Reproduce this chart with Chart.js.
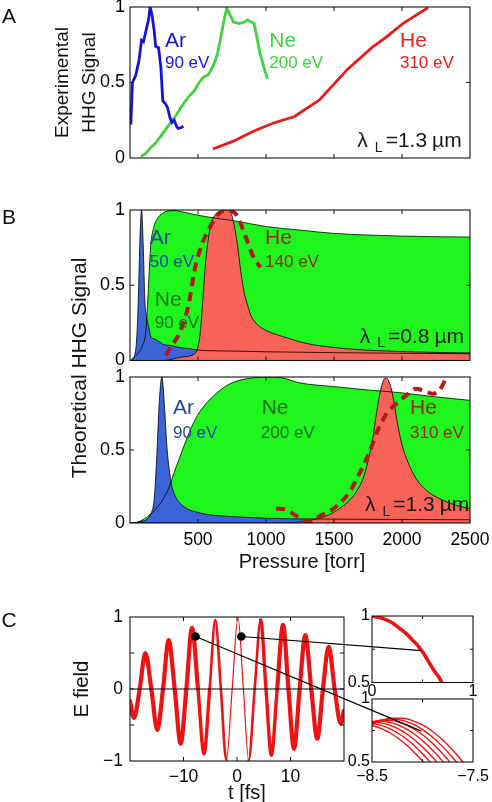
<!DOCTYPE html>
<html><head><meta charset="utf-8">
<script src="https://cdn.jsdelivr.net/npm/chart.js@4.4.1/dist/chart.umd.min.js"></script>
<style>html,body{margin:0;padding:0;background:#fff;}#wrap{position:relative;width:492px;height:802px;overflow:hidden;background:#fff;}canvas{position:absolute;left:0;top:0;}</style>
</head><body><div id="wrap"></div>
<script>
// ================= DATA =================
// Panel A: experimental HHG signal vs pressure (torr)
const aArP = [6,18,43,67,85,99,109,136,148,163,178,188,210,227,241,259,276,293,308,325,342,354,374,393];
const aArV = [0.22,0.50,0.55,0.65,0.78,0.77,0.81,0.915,1.0,0.94,0.84,0.74,0.73,0.60,0.38,0.36,0.335,0.27,0.235,0.25,0.21,0.196,0.20,0.21];
const aNeP = [80,116,153,190,227,263,300,337,374,410,435,472,509,540,570,594,624,643,668,692,712,729,761,803,839,864,893,913,937,957,974,991,1011];
const aNeV = [0.01,0.03,0.07,0.10,0.145,0.19,0.235,0.28,0.335,0.38,0.41,0.445,0.50,0.535,0.547,0.58,0.636,0.69,0.80,0.915,0.993,0.96,0.90,0.89,0.90,0.915,0.90,0.89,0.78,0.69,0.636,0.58,0.525];
const aHeP = [609,756,903,1050,1210,1393,1602,1785,1884,2006,2190];
const aHeV = [0.06,0.11,0.176,0.23,0.275,0.385,0.59,0.736,0.80,0.89,0.995];

// Panel B top (0.8 um)
const b1ArP = [0,6,43,60,72,85,97,109,124,141,153,178,202,227,251,300,349,398,447,484,600,800,1000,1500,2000,2500];
const b1ArV = [0,0,0.08,0.37,0.77,1.0,0.77,0.41,0.28,0.21,0.155,0.144,0.133,0.118,0.104,0.10,0.089,0.082,0.078,0.071,0.065,0.062,0.058,0.052,0.048,0.045];
const b1NeP = [0,55,92,116,129,141,153,173,202,239,276,325,374,472,634,756,1001,1246,1491,1737,1982,2227,2500];
const b1NeV = [0,0.044,0.10,0.19,0.37,0.59,0.77,0.88,0.944,0.978,0.993,0.996,0.99,0.97,0.945,0.93,0.89,0.867,0.845,0.834,0.827,0.823,0.82];
const b1HeP = [0,251,374,472,496,516,533,550,570,594,624,668,712,741,766,790,815,839,864,888,925,962,1011,1085,1173,1246,1344,1467,1590,1835,2080,2500];
const b1HeV = [0,0,0.022,0.042,0.078,0.18,0.37,0.59,0.77,0.90,0.967,0.993,1.0,0.984,0.90,0.77,0.59,0.455,0.37,0.30,0.25,0.22,0.195,0.17,0.145,0.125,0.105,0.09,0.078,0.065,0.057,0.05];
const b1ExP = [263,300,349,386,411,435,452,472,496,526,558,589,619,656,692,729,766,803,827,864,901,938,962];
const b1ExV = [0.033,0.089,0.156,0.233,0.30,0.39,0.478,0.589,0.678,0.767,0.833,0.889,0.933,0.978,0.993,0.993,0.984,0.933,0.878,0.789,0.70,0.644,0.62];

// Panel B bottom (1.3 um)
const b2ArP = [0,30,80,129,158,178,197,214,227,234,241,256,271,288,307,337,374,423,496,594,717,839,1011,1300,1600,2000,2500];
const b2ArV = [0,0,0.01,0.027,0.073,0.165,0.46,0.805,0.966,1.0,0.966,0.76,0.53,0.37,0.256,0.176,0.13,0.096,0.073,0.055,0.046,0.039,0.032,0.028,0.026,0.024,0.022];
const b2NeP = [0,50,104,153,202,251,288,325,362,398,447,496,558,619,692,766,864,962,1050,1124,1246,1491,1737,1982,2227,2500];
const b2NeV = [0,0.005,0.027,0.062,0.108,0.176,0.245,0.348,0.44,0.53,0.645,0.737,0.817,0.874,0.93,0.966,0.989,0.998,1.0,0.993,0.96,0.935,0.912,0.893,0.866,0.84];
const b2HeP = [0,1100,1197,1320,1443,1540,1614,1663,1712,1749,1785,1810,1835,1859,1879,1896,1921,1945,1969,2001,2043,2104,2178,2276,2398,2500];
const b2HeV = [0,0,0.002,0.018,0.048,0.098,0.155,0.212,0.30,0.418,0.578,0.737,0.874,0.966,0.993,0.984,0.92,0.806,0.669,0.532,0.418,0.304,0.224,0.167,0.121,0.098];
const b2ExP = [1075,1136,1222,1283,1320,1406,1467,1540,1614,1687,1761,1822,1884,1957,2031,2104,2153,2227,2276,2325,2345];
const b2ExV = [0.098,0.094,0.05,0.018,0.01,0.053,0.08,0.132,0.212,0.338,0.486,0.635,0.745,0.817,0.874,0.92,0.909,0.886,0.909,1.0,1.06];

// Panel C: E field vs t (fs)
const cT = [-20,-19.25,-18.19,-17.13,-16.01,-14.89,-13.83,-12.77,-11.65,-10.53,-9.47,-8.41,-7.29,-6.17,-5.11,-4.05,-3.02,-1.99,-0.9,0.19,1.19,2.18,3.3,4.42,5.42,6.42,7.51,8.6,9.62,10.65,11.71,12.77,13.88,15.0,16.06,17.13,18.25,19.38,20];
const cE = [-0.17,-0.40,0,0.50,0,-0.57,0,0.68,0,-0.76,0,0.85,0,-0.90,0,0.96,0,-0.99,0,1.0,0,-0.99,0,0.96,0,-0.92,0,0.89,0,-0.83,0,0.75,0,-0.69,0,0.59,0,-0.48,-0.30];
const zeroT = [-20,20];
const zeroE = [0,0];
const dotT = [-7.75,0.8];
const dotE = [0.73,0.73];
const linkX = [-8.01,0.49];
const linkY = [0.745,0.74];
const linkTo = ['inB','inT'];
// inset top (t in 0..1)
const itX = [0,0.066,0.13,0.2,0.26,0.33,0.4,0.46,0.51,0.56,0.61,0.66,0.69,0.72];
const itY = [1.0,0.99,0.975,0.95,0.915,0.873,0.82,0.772,0.72,0.657,0.594,0.543,0.5,0.45];
// inset bottom (t in -8.5..-7.5), several curves
const ibX = [-8.5,-8.4,-8.3,-8.2,-8.1,-8.0,-7.9,-7.8,-7.7,-7.6,-7.5];
const ib1 = [0.790,0.763,0.720,0.663,0.592,0.508,0.413];
const ib2 = [0.806,0.789,0.755,0.706,0.643,0.566,0.477];
const ib3 = [0.816,0.809,0.785,0.745,0.689,0.619,0.537,0.443];
const ib4 = [0.821,0.824,0.810,0.779,0.732,0.669,0.593,0.505,0.406];
const ib5 = [0.819,0.832,0.828,0.807,0.769,0.716,0.647,0.565,0.471];
const ib6 = [0.810,0.834,0.841,0.830,0.802,0.757,0.697,0.622,0.534,0.434];
const ib7 = [0.797,0.831,0.848,0.847,0.829,0.794,0.742,0.674,0.593,0.50,0.395];

// tick labels
const pTicks = [0,500,1000,1500,2000,2500];
const pLabels = ['','500','1000','1500','2000','2500'];
const sTicks = [0,0.5,1];
const sLabels = ['0','0.5','1'];
const tTicks = [-20,-10,0,10,20];
const tLabels = ['','\u221210','0','10',''];
const eTicks = [-1,-0.5,0,0.5,1];
const eLabels = ['\u22121','','0','','1'];
const iyTicks = [0.5,0.75,1];
const iyLabels = ['0.5','','1'];
const itTicks = [0,0.5,1];
const itLabels = ['0','','1'];
const ibTicks = [-8.5,-8,-7.5];
const ibLabels = ['\u22128.5','','\u22127.5'];

// ================= LAYOUT / STYLE =================
const FONT = "'Liberation Sans', Arial, Helvetica, sans-serif";
const W = 492, H = 802, YW = 40, XH = 30;
Chart.defaults.font.family = FONT;
Chart.defaults.color = '#000';
const charts = {};
const ANNOT = {};

function pts(xs, ys){ return ys.map((y,i)=>({x:xs[i], y})); }

function drawLambda(ctx, xr, ym, val, size, color){
  const big = size+'px '+FONT, small = Math.round(size*0.68)+'px '+FONT;
  const parts = [['\u03bb',big,0,7],['L',small,size*0.32,3],['='+val,big,0,5],['\u00b5m',big,0,0]];
  let total = 0;
  parts.forEach(p=>{ctx.font=p[1]; p.w=ctx.measureText(p[0]).width; total+=p.w+p[3];});
  let x = xr-total;
  ctx.fillStyle=color; ctx.textAlign='left'; ctx.textBaseline='middle';
  parts.forEach(p=>{ctx.font=p[1]; ctx.fillText(p[0],x,ym+p[2]); x+=p.w+p[3];});
}

const boxPlugin = {
  id:'boxTicks',
  afterDatasetsDraw(chart){
    const {ctx, chartArea:a, scales:{x,y}} = chart;
    const an = ANNOT[chart.canvas.id] || {};
    const L = an.tickLen || 4;
    ctx.save();
    ctx.strokeStyle='#111'; ctx.lineWidth=1;
    ctx.beginPath();
    x.ticks.forEach(t=>{const px=x.getPixelForValue(t.value); if(px<a.left+1||px>a.right-1) return;
      ctx.moveTo(px,a.bottom); ctx.lineTo(px,a.bottom-L); ctx.moveTo(px,a.top); ctx.lineTo(px,a.top+L);});
    y.ticks.forEach(t=>{const py=y.getPixelForValue(t.value); if(py<a.top+1||py>a.bottom-1) return;
      ctx.moveTo(a.left,py); ctx.lineTo(a.left+L,py); ctx.moveTo(a.right,py); ctx.lineTo(a.right-L,py);});
    ctx.stroke();
    ctx.lineWidth=1.1;
    ctx.strokeRect(a.left,a.top,a.right-a.left,a.bottom-a.top);
    ctx.restore();
  }
};
const textPlugin = {
  id:'texts',
  afterDraw(chart){
    const {ctx, chartArea:a, scales:{x,y}} = chart;
    const an = ANNOT[chart.canvas.id]; if(!an) return;
    ctx.save();
    (an.items||[]).forEach(it=>{
      const px=x.getPixelForValue(it.x), py=y.getPixelForValue(it.y);
      if(it.lambda){ drawLambda(ctx,px,py,it.lambda,it.size,it.color); return; }
      ctx.font=it.size+'px '+FONT; ctx.fillStyle=it.color; ctx.textAlign='left'; ctx.textBaseline='middle';
      ctx.fillText(it.text,px,py);
    });
    (an.titles||[]).forEach(t=>{
      const bx = t.h==='left'?a.left:(t.h==='center'?(a.left+a.right)/2:a.right);
      const by = t.v==='top'?a.top:(t.v==='mid'?(a.top+a.bottom)/2:a.bottom);
      ctx.save(); ctx.translate(bx+t.dx, by+t.dy); if(t.rot) ctx.rotate(-Math.PI/2);
      ctx.font=t.size+'px '+FONT; ctx.fillStyle='#111'; ctx.textAlign='center'; ctx.textBaseline='middle';
      ctx.fillText(t.text,0,0); ctx.restore();
    });
    ctx.restore();
  }
};
Chart.register(boxPlugin, textPlugin);

function sx(min,max,vals,labels,pad,size){
  return {type:'linear',min,max,grid:{display:false,drawTicks:false},border:{display:false},
    ticks:{display:!!labels,padding:pad,autoSkip:false,maxRotation:0,minRotation:0,color:'#000',font:{size:size||17.5},
      callback:(v,i)=>labels?labels[i]:''},
    afterBuildTicks:s=>{s.ticks=vals.map(v=>({value:v}));},
    afterFit:s=>{s.height=XH; s.paddingLeft=0; s.paddingRight=0; s.paddingTop=0; s.paddingBottom=0;}};
}
function sy(min,max,vals,labels,pad,size){
  return {type:'linear',min,max,grid:{display:false,drawTicks:false},border:{display:false},
    ticks:{display:!!labels,padding:pad,autoSkip:false,color:'#000',font:{size:size||17.5},
      callback:(v,i)=>labels?labels[i]:''},
    afterBuildTicks:s=>{s.ticks=vals.map(v=>({value:v}));},
    afterFit:s=>{s.width=YW; s.paddingLeft=0; s.paddingRight=0; s.paddingTop=0; s.paddingBottom=0;}};
}
function mk(key, area, datasets, scales, extraPlugins){
  const c=document.createElement('canvas'); c.id=key; c.width=W; c.height=H;
  c.style.width=W+'px'; c.style.height=H+'px';
  document.getElementById('wrap').appendChild(c);
  charts[key]=new Chart(c.getContext('2d'),{type:'line',data:{datasets},
    options:{responsive:false,animation:false,devicePixelRatio:1,events:[],
      layout:{padding:{left:area.l-YW,top:area.t,right:W-area.r,bottom:H-area.b-XH}},
      scales,
      elements:{point:{radius:0},line:{tension:0}},
      plugins:{legend:{display:false},tooltip:{enabled:false},filler:{drawTime:'beforeDatasetsDraw',propagate:false}}},
    plugins:extraPlugins||[]});
}

const BLUE_A='#1414dc', GREEN_A='#3fd23f', RED_A='#e61c1c';
const BLUE_F='#3d63d8', GREEN_F='#1df51d', RED_F='#fa6458', DASH='#b01a1a';
const TXT_AR='#1f47a0', TXT_NE='#1b741b', TXT_HE='#8c2e14', TXT_L='#1a1a1a';

// ----- Panel A -----
ANNOT.A = {items:[
  {x:257,y:0.775,text:'Ar',size:21,color:BLUE_A},{x:257,y:0.629,text:'90 eV',size:17,color:BLUE_A},
  {x:1024,y:0.775,text:'Ne',size:21,color:GREEN_A},{x:1024,y:0.629,text:'200 eV',size:17,color:GREEN_A},
  {x:1985,y:0.775,text:'He',size:21,color:RED_A},{x:1985,y:0.629,text:'310 eV',size:17,color:RED_A},
  {x:2439,y:0.108,lambda:'1.3',size:21,color:TXT_L}],
  titles:[{text:'Experimental',h:'left',dx:-67,v:'mid',dy:0,rot:true,size:19},
          {text:'HHG Signal',h:'left',dx:-40,v:'mid',dy:0,rot:true,size:19},
          {text:'A',h:'left',dx:-121,v:'top',dy:10.5,size:21}]};
mk('A',{l:130,t:7,r:470,b:158},[
  {data:pts(aArP,aArV),borderColor:BLUE_A,borderWidth:2.8,fill:false},
  {data:pts(aNeP,aNeV),borderColor:GREEN_A,borderWidth:2.8,fill:false},
  {data:pts(aHeP,aHeV),borderColor:RED_A,borderWidth:2.8,fill:false}],
  {x:sx(0,2500,pTicks,null,0),y:sy(0,1,sTicks,sLabels,5,18)});

// ----- Panel B top -----
function bSets(heP,heV,arP,arV,neP,neV,exP,exV){
  const line={borderColor:'#000',borderWidth:0.8,cubicInterpolationMode:'monotone',fill:'origin'};
  return [
    {data:pts(exP,exV),borderColor:DASH,borderWidth:4,borderDash:[9,6],fill:false,cubicInterpolationMode:'monotone'},
    Object.assign({data:pts(heP,heV),backgroundColor:RED_F},line),
    Object.assign({data:pts(arP,arV),backgroundColor:BLUE_F},line),
    Object.assign({data:pts(neP,neV),backgroundColor:GREEN_F},line)];
}
ANNOT.B1 = {items:[
  {x:145,y:0.814,text:'Ar',size:21,color:TXT_AR},{x:145,y:0.654,text:'50 eV',size:17,color:TXT_AR},
  {x:182,y:0.402,text:'Ne',size:21,color:TXT_NE},{x:182,y:0.247,text:'90 eV',size:17,color:TXT_NE},
  {x:993,y:0.814,text:'He',size:21,color:TXT_HE},{x:993,y:0.654,text:'140 eV',size:17,color:TXT_HE},
  {x:2456,y:0.158,lambda:'0.8',size:21,color:TXT_L}],
  titles:[{text:'B',h:'left',dx:-121,v:'top',dy:8,size:21}]};
mk('B1',{l:130,t:210,r:470,b:360.5},bSets(b1HeP,b1HeV,b1ArP,b1ArV,b1NeP,b1NeV,b1ExP,b1ExV),
  {x:sx(0,2500,pTicks,null,0),y:sy(0,1,sTicks,sLabels,5,18)});

// ----- Panel B bottom -----
ANNOT.B2 = {items:[
  {x:316,y:0.783,text:'Ar',size:21,color:TXT_AR},{x:316,y:0.612,text:'90 eV',size:17,color:TXT_AR},
  {x:968,y:0.783,text:'Ne',size:21,color:TXT_NE},{x:962,y:0.612,text:'200 eV',size:17,color:TXT_NE},
  {x:2059,y:0.783,text:'He',size:21,color:TXT_HE},{x:2059,y:0.612,text:'310 eV',size:17,color:TXT_HE},
  {x:2495,y:0.123,lambda:'1.3',size:21,color:TXT_L}],
  titles:[{text:'Theoretical HHG Signal',h:'left',dx:-50,v:'top',dy:-9,rot:true,size:21},
          {text:'Pressure [torr]',h:'center',dx:2,v:'bottom',dy:39,size:20}]};
mk('B2',{l:130,t:377,r:470,b:523},bSets(b2HeP,b2HeV,b2ArP,b2ArV,b2NeP,b2NeV,b2ExP,b2ExV),
  {x:sx(0,2500,pTicks,pLabels,7,17.5),y:sy(0,1,sTicks,sLabels,5,18)});

// ----- Panel C main -----
ANNOT.C = {titles:[{text:'E field',h:'left',dx:-48,v:'mid',dy:0,rot:true,size:20.5},
                   {text:'t [fs]',h:'center',dx:10,v:'bottom',dy:32,size:20},
                   {text:'C',h:'left',dx:-121,v:'top',dy:4.7,size:21}]};
mk('C',{l:130,t:617,r:344,b:761},[
  {data:pts(dotT,dotE),showLine:false,pointRadius:4.3,pointBackgroundColor:'#000',pointBorderColor:'#000',pointBorderWidth:0},
  {data:pts(zeroT,zeroE),borderColor:'#000',borderWidth:1,fill:false},
  {data:pts(cT,cE),borderColor:'#f01212',borderWidth:4,fill:false,cubicInterpolationMode:'monotone',
   borderCapStyle:'round',borderJoinStyle:'round',
   segment:{borderWidth:c=>{const m=Math.abs((c.p0.parsed.x+c.p1.parsed.x)/2); return m<2.2?1.2:(m<4.7?2.6:(m<7?3.4:4.2));}}}],
  {x:sx(-20,20,tTicks,tLabels,5.5,17.5),y:sy(-1,1,eTicks,eLabels,7,17.5)});

// ----- Inset top -----
ANNOT.inT = {tickLen:3};
mk('inT',{l:372,t:616,r:473,b:682.5},[
  {data:pts(itX,itY),borderColor:'#f01212',borderWidth:3.5,fill:false,cubicInterpolationMode:'monotone'}],
  {x:sx(0,1,itTicks,itLabels,-1,16),y:sy(0.5,1,iyTicks,iyLabels,2,16)});

// ----- Inset bottom (with connector lines) -----
ANNOT.inB = {tickLen:3};
const connectPlugin = {id:'connect', afterDraw(chart){
  const ctx=chart.ctx, m=charts.C;
  ctx.save(); ctx.strokeStyle='#000'; ctx.lineWidth=1.1;
  dotT.forEach((t,i)=>{
    const dst = linkTo[i]==='inB'?chart:charts[linkTo[i]];
    const x0=m.scales.x.getPixelForValue(t), y0=m.scales.y.getPixelForValue(dotE[i]);
    const x1=dst.scales.x.getPixelForValue(linkX[i]), y1=dst.scales.y.getPixelForValue(linkY[i]);
    ctx.beginPath(); ctx.moveTo(x0,y0); ctx.lineTo(x1,y1); ctx.stroke();
  });
  ctx.restore();
}};
const ibSets = [ib1,ib2,ib3,ib4,ib5,ib6,ib7].map(v=>({data:pts(ibX,v),borderColor:'#f01212',borderWidth:1.4,fill:false,cubicInterpolationMode:'monotone'}));
mk('inB',{l:372,t:699,r:473,b:762},ibSets,
  {x:sx(-8.5,-7.5,ibTicks,ibLabels,4.5,16),y:sy(0.5,1,iyTicks,iyLabels,2,16)},[connectPlugin]);
</script></body></html>
